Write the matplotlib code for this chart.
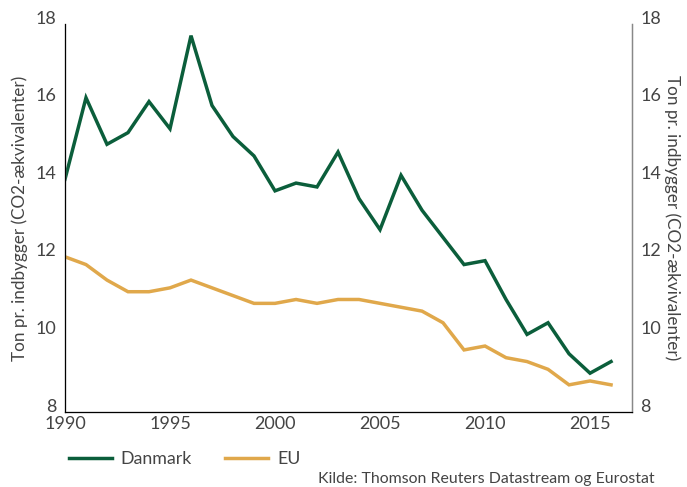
import matplotlib
matplotlib.use("Agg")
import matplotlib.pyplot as plt
import matplotlib.transforms as mtransforms
from matplotlib.lines import Line2D

years = list(range(1990, 2017))
danmark = [14.0, 16.1, 14.9, 15.2, 16.0, 15.3, 17.7, 15.9, 15.1, 14.6,
           13.7, 13.9, 13.8, 14.7, 13.5, 12.7, 14.1, 13.2, 12.5, 11.8,
           11.9, 10.9, 10.0, 10.3, 9.5, 9.0, 9.3]
eu = [12.0, 11.8, 11.4, 11.1, 11.1, 11.2, 11.4, 11.2, 11.0, 10.8,
      10.8, 10.9, 10.8, 10.9, 10.9, 10.8, 10.7, 10.6, 10.3, 9.6,
      9.7, 9.4, 9.3, 9.1, 8.7, 8.8, 8.7]
yticks = [8, 10, 12, 14, 16, 18]
xticks = [1990, 1995, 2000, 2005, 2010, 2015]

green = "#0b5e3b"
gold = "#e0a84b"
grey = "#444444"
ylabel = "Ton pr. indbygger (CO2-ækvivalenter)"

plt.rcParams["font.family"] = ["Lato", "DejaVu Sans"]

fig = plt.figure(figsize=(6.87, 4.87), dpi=100)
ax = fig.add_axes([0.0946, 0.154, 0.8254, 0.7967])

ax.plot(years, danmark, color=green, lw=2.5, solid_joinstyle="miter")
ax.plot(years, eu, color=gold, lw=2.5, solid_joinstyle="miter")

ax.set_xlim(1990, 2017)
ax.set_ylim(8, 18)
ax.set_xticks(xticks)
ax.set_yticks(yticks)
ax.tick_params(length=0, labelsize=13, colors=grey, pad=6)
ax.tick_params(axis="x", pad=3)
ax.set_ylabel(ylabel, fontsize=12.3, color=grey)
ax.yaxis.set_label_coords(-0.066, 0.5)

ax.spines["top"].set_visible(False)
for s in ["left", "bottom", "right"]:
    ax.spines[s].set_color("#888888")
    ax.spines[s].set_linewidth(1.0)

ax2 = ax.twinx()
ax2.set_ylim(8, 18)
ax2.set_yticks(yticks)
ax2.tick_params(length=0, labelsize=13, colors=grey, pad=6)
ax2.set_ylabel(ylabel, fontsize=12.3, color=grey, rotation=-90, va="center")
ax2.yaxis.set_label_coords(1.071, 0.5)
ax2.spines["top"].set_visible(False)
ax2.spines["right"].set_color("#888888")

# tick labels sit a little above their values in the original
shift = mtransforms.ScaledTranslation(0, 5 / 72, fig.dpi_scale_trans)
for lab in ax.get_yticklabels() + ax2.get_yticklabels():
    lab.set_transform(lab.get_transform() + shift)

handles = [Line2D([], [], color=green, lw=2.5), Line2D([], [], color=gold, lw=2.5)]
fig.legend(handles, ["Danmark", "EU"], loc="center left", bbox_to_anchor=(0.077, 0.058),
           ncol=2, frameon=False, fontsize=12.8, labelcolor=grey,
           handlelength=2.4, columnspacing=1.9, handletextpad=0.5)

fig.text(0.953, 0.016, "Kilde: Thomson Reuters Datastream og Eurostat",
         ha="right", va="center", fontsize=11.4, color=grey)

fig.savefig("out.png", dpi=100)
